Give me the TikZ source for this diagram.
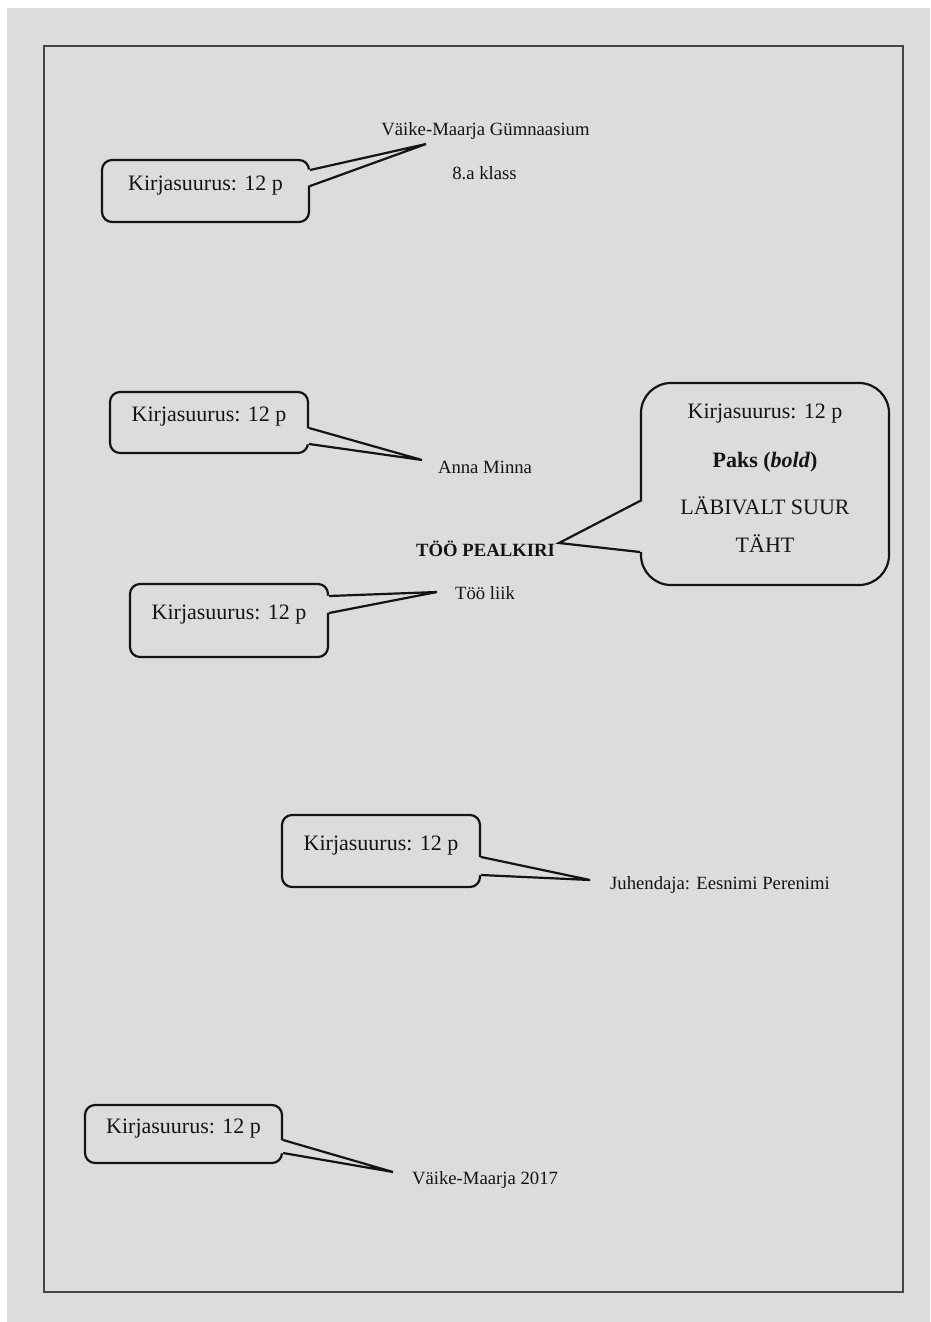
\documentclass[tikz,border=0pt]{standalone}
\usepackage{fontspec}
\setmainfont{Liberation Serif}
\usetikzlibrary{calc}

\definecolor{pagegray}{RGB}{220,220,220}
\definecolor{inkblack}{RGB}{20,20,20}
\definecolor{framegray}{RGB}{70,70,70}
\newcommand{\boxfont}{\fontsize{22}{38}\selectfont}
\newcommand{\pagefont}{\fontsize{18.7}{22}\selectfont}

\begin{document}
\begin{tikzpicture}[x=1pt, y=-1pt,
    bubble/.style={draw=inkblack, line width=2.2pt, rounded corners=10pt, inner sep=0pt,
      font=\boxfont, text=inkblack, text height=15pt, text depth=17pt},
    pointer/.style={draw=inkblack, line width=2.2pt},
    pagetext/.style={inner sep=0pt, font=\pagefont, text=inkblack}]
  % Page background and frame
  \fill[white] (0,0) rectangle (930,1322);
  \fill[pagegray] (7,8) rectangle (930,1322);
  \draw[framegray, line width=1.6pt] (44,46) rectangle (903,1292);

  % Texts of the title page
  \node[pagetext] (school) at (485.5,131) {Väike-Maarja Gümnaasium};
  \node[pagetext] (klass) at (484.5,173) {8.a klass};
  \node[pagetext] (author) at (485,467) {Anna Minna};
  \node[pagetext, font=\pagefont\bfseries] (title) at (485.5,549) {TÖÖ PEALKIRI};
  \node[pagetext] (kind) at (485,593) {Töö liik};
  \node[pagetext] (tutor) at (720,885) {Juhendaja: Eesnimi Perenimi};
  \node[pagetext] (place) at (485,1180) {Väike-Maarja 2017};

  % Tips of the pointers
  \coordinate (t1) at (426,144);
  \coordinate (t2) at (422,460);
  \coordinate (t3) at (437,592);
  \coordinate (t4) at (590,880);
  \coordinate (t5) at (393,1172);
  \coordinate (t6) at (559,543);

  % Callout boxes
  \node[bubble, minimum width=207pt, minimum height=62pt] (b1) at (205.5,191) {Kirjasuurus: 12 p};
  \node[bubble, minimum width=198pt, minimum height=61pt] (b2) at (209,422.5) {Kirjasuurus: 12 p};
  \node[bubble, minimum width=198pt, minimum height=73pt] (b3) at (229,620.5) {Kirjasuurus: 12 p};
  \node[bubble, minimum width=198pt, minimum height=72pt] (b4) at (381,851) {Kirjasuurus: 12 p};
  \node[bubble, minimum width=197pt, minimum height=58pt] (b5) at (183.5,1134) {Kirjasuurus: 12 p};
  \node[bubble, rounded corners=30pt, minimum width=248pt, minimum height=202pt] (b6) at (765,484) {};
  \node[align=center, inner sep=0pt, font=\boxfont, text=inkblack] (b6text) at (765,478)
    {Kirjasuurus: 12 p\\[11pt]\textbf{Paks (\textit{bold})}\\[9pt]LÄBIVALT SUUR\\TÄHT};

  % Pointers from the boxes to the texts
  \fill[pagegray] ($(b1.east)+(-3,-21)$) -- (t1) -- ($(b1.east)+(-3,-5)$) -- cycle;
  \draw[pointer] ($(b1.east)+(0,-21)$) -- (t1) -- ($(b1.east)+(0,-5)$);
  \fill[pagegray] ($(b2.east)+(-3,5.5)$) -- (t2) -- ($(b2.east)+(-3,21.5)$) -- cycle;
  \draw[pointer] ($(b2.east)+(0,5.5)$) -- (t2) -- ($(b2.east)+(0,21.5)$);
  \fill[pagegray] ($(b3.east)+(-3,-24.5)$) -- (t3) -- ($(b3.east)+(-3,-7.5)$) -- cycle;
  \draw[pointer] ($(b3.east)+(0,-24.5)$) -- (t3) -- ($(b3.east)+(0,-7.5)$);
  \fill[pagegray] ($(b4.east)+(-3,6)$) -- (t4) -- ($(b4.east)+(-3,24)$) -- cycle;
  \draw[pointer] ($(b4.east)+(0,6)$) -- (t4) -- ($(b4.east)+(0,24)$);
  \fill[pagegray] ($(b5.east)+(-3,6)$) -- (t5) -- ($(b5.east)+(-3,19)$) -- cycle;
  \draw[pointer] ($(b5.east)+(0,6)$) -- (t5) -- ($(b5.east)+(0,19)$);
  \fill[pagegray] ($(b6.west)+(3,17)$) -- (t6) -- ($(b6.west)+(3,68)$) -- cycle;
  \draw[pointer] ($(b6.west)+(0,17)$) -- (t6) -- ($(b6.west)+(0,68)$);
\end{tikzpicture}
\end{document}
